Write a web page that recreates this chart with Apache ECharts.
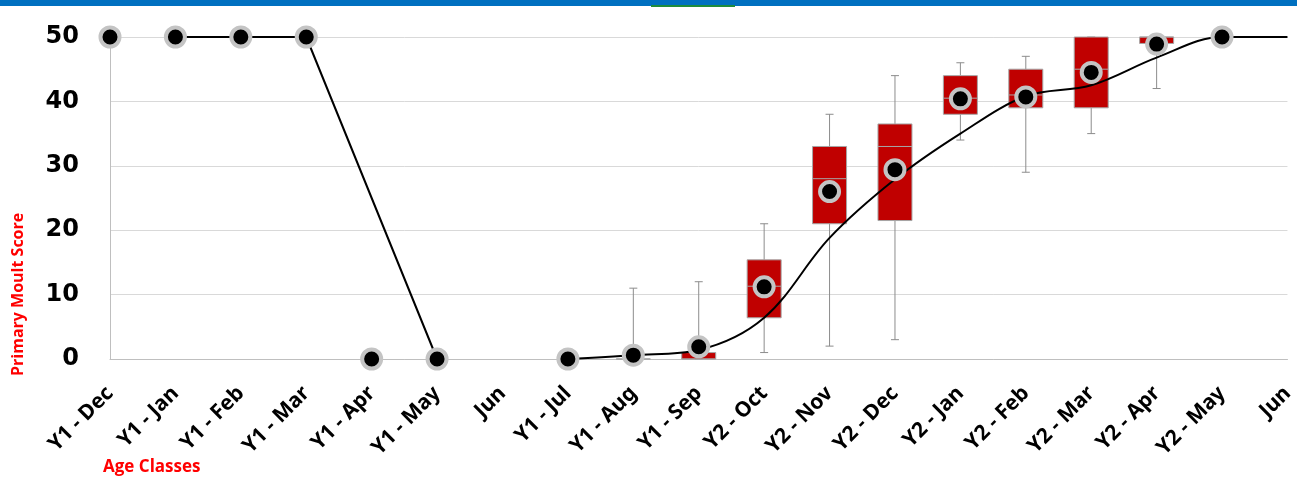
<!DOCTYPE html>
<html>
<head>
<meta charset="utf-8">
<title>Primary Moult Score</title>
<script src="https://cdn.jsdelivr.net/npm/echarts@6/dist/echarts.min.js"></script>
<style>
* {
  margin: 0;
  padding: 0;
}
html, body {
  background: #fff;
}
#moult {
  width: 1297px;
  height: 487px;
}
</style>
</head>
<body>
<div id="moult"></div>
<script>
// age classes along the x axis
var ageClasses = ["Y1 - Dec", "Y1 - Jan", "Y1 - Feb", "Y1 - Mar", "Y1 - Apr", "Y1 - May", "Jun",
  "Y1 - Jul", "Y1 - Aug", "Y1 - Sep", "Y2 - Oct", "Y2 - Nov", "Y2 - Dec", "Y2 - Jan",
  "Y2 - Feb", "Y2 - Mar", "Y2 - Apr", "Y2 - May", "Jun"];

// box plots: [class index, min, q1, median, q3, max]
var boxData = [
  [8, 0, 0, 0, 0, 11],
  [9, 0, 0, 0, 1, 12],
  [10, 1, 6.4, 11.3, 15.4, 21],
  [11, 2, 21, 28, 33, 38],
  [12, 3, 21.5, 33, 36.5, 44],
  [13, 34, 38, 40.5, 44, 46],
  [14, 29, 39, 41, 45, 47],
  [15, 35, 39, 45, 50, 50],
  [16, 42, 49, 50, 50, 50]
];

// mean moult score per class
var meanScore = [50, 50, 50, 50, 0, 0, null, 0, 0.6, 1.9, 11.2, 26, 29.4, 40.4, 40.7, 44.5, 48.9, 50, null];

// fitted lines (first year drop, second year rise)
var fitFirst = [null, 50, 50, 50, null, 0, null, null, null, null, null, null, null, null, null, null, null, null, null];
var fitSecond = [null, null, null, null, null, null, null, 0, 0.6, 1.4, 6.4, 18.8, 27.9, 35, 40.8, 42.5, 46.8, 50, 50];

var yTicks = { min: 0, max: 50, interval: 10 };

function renderBox (params, api) {
  var idx = api.value(0);
  var pMin = api.coord([idx, api.value(1)]);
  var pQ1 = api.coord([idx, api.value(2)]);
  var pMed = api.coord([idx, api.value(3)]);
  var pQ3 = api.coord([idx, api.value(4)]);
  var pMax = api.coord([idx, api.value(5)]);
  var x = pMin[0];
  var half = 17;
  var cap = 4;
  var whisker = { stroke: "#8c8c8c", lineWidth: 1 };
  return {
    type: "group",
    children: [
      { type: "line", shape: { x1: x, y1: pQ3[1], x2: x, y2: pMax[1] }, style: whisker },
      { type: "line", shape: { x1: x, y1: pQ1[1], x2: x, y2: pMin[1] }, style: whisker },
      { type: "line", shape: { x1: x - cap, y1: pMax[1], x2: x + cap, y2: pMax[1] }, style: whisker },
      { type: "line", shape: { x1: x - cap, y1: pMin[1], x2: x + cap, y2: pMin[1] }, style: whisker },
      {
        type: "rect",
        shape: { x: x - half, y: pQ3[1], width: half * 2, height: pQ1[1] - pQ3[1] },
        style: { fill: "#c00000", stroke: "#a6a6a6", lineWidth: 1 }
      },
      { type: "line", shape: { x1: x - half, y1: pMed[1], x2: x + half, y2: pMed[1] }, style: { stroke: "#a6a6a6", lineWidth: 1 } }
    ]
  };
}

var chart = echarts.init(document.getElementById("moult"));
chart.setOption({
  animation: false,
  grid: {
    left: 110,
    right: 3,
    top: 37,
    bottom: 128
  },
  graphic: [
    { type: "rect", shape: { x: 0, y: 0, width: 1297, height: 6 }, style: { fill: "#0070c0" } },
    { type: "rect", shape: { x: 651, y: 5, width: 84, height: 2 }, style: { fill: "#1e8c3c" } },
    {
      type: "text",
      x: 26,
      y: 376,
      rotation: Math.PI / 2,
      style: {
        text: "Primary Moult Score",
        fill: "#ff0000",
        font: "bold 16px 'Open Sans'",
        textAlign: "left",
        textVerticalAlign: "bottom"
      }
    },
    {
      type: "text",
      x: 103,
      y: 459,
      style: {
        text: "Age Classes",
        fill: "#ff0000",
        font: "bold 17px 'Open Sans'",
        textAlign: "left",
        textVerticalAlign: "top"
      }
    }
  ],
  xAxis: {
    type: "category",
    data: ageClasses,
    boundaryGap: false,
    axisTick: { show: false },
    axisLine: { lineStyle: { color: "#bfbfbf", width: 1 } },
    axisLabel: {
      rotate: 45,
      interval: 0,
      margin: 31,
      color: "#000",
      fontSize: 21,
      fontWeight: "bold",
      fontFamily: "Noto Sans"
    },
    splitLine: { show: false }
  },
  yAxis: {
    type: "value",
    min: yTicks.min,
    max: yTicks.max,
    interval: yTicks.interval,
    axisLine: { show: true, lineStyle: { color: "#bfbfbf", width: 1 } },
    axisTick: { show: false },
    axisLabel: {
      margin: 31,
      color: "#000",
      fontSize: 24,
      fontWeight: "bold",
      fontFamily: "DejaVu Sans"
    },
    splitLine: { lineStyle: { color: "#d9d9d9", width: 1 } }
  },
  series: [
    {
      type: "custom",
      name: "box",
      renderItem: renderBox,
      encode: { x: 0, y: [1, 2, 3, 4, 5] },
      data: boxData,
      z: 2
    },
    {
      type: "line",
      name: "fit1",
      data: fitFirst,
      connectNulls: true,
      showSymbol: false,
      symbol: "none",
      lineStyle: { color: "#000", width: 2 },
      z: 3
    },
    {
      type: "line",
      name: "fit2",
      data: fitSecond,
      smooth: 0.35,
      showSymbol: false,
      symbol: "none",
      lineStyle: { color: "#000", width: 2 },
      z: 3
    },
    {
      type: "scatter",
      name: "mean",
      data: meanScore,
      symbol: "circle",
      symbolSize: 19,
      itemStyle: {
        color: "#000",
        borderColor: "#c4c4c4",
        borderWidth: 4,
        opacity: 1
      },
      z: 4
    }
  ]
});
</script>
</body>
</html>
